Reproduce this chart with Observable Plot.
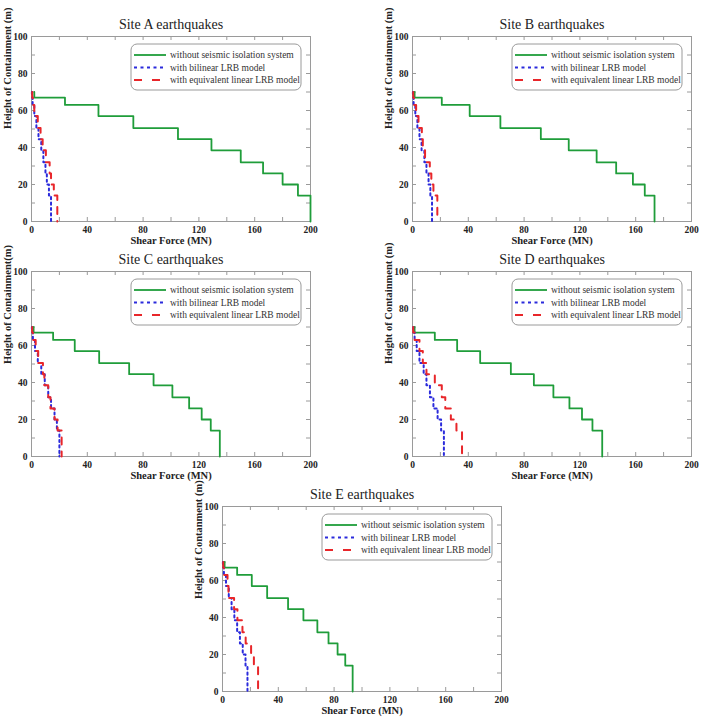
<!DOCTYPE html>
<html><head><meta charset="utf-8">
<script src="https://cdn.jsdelivr.net/npm/d3@7"></script>
<script src="https://cdn.jsdelivr.net/npm/@observablehq/plot@0.6"></script>
<style>
html,body{margin:0;padding:0;background:#fff;}
#root{position:relative;width:712px;height:721px;overflow:hidden;background:#fff;}
.panel{position:absolute;}
</style></head><body><div id="root"></div>
<script>
// ---- data ----
const heights = [70, 67, 63, 57, 50.5, 44.5, 38.5, 32, 26, 20, 14, 0];
const seriesNames = ["without seismic isolation system", "with bilinear LRB model", "with equivalent linear LRB model"];
const siteTitles = ["Site A earthquakes", "Site B earthquakes", "Site C earthquakes", "Site D earthquakes", "Site E earthquakes"];
const yAxisLabels = ["Height of Containment (m)", "Height of Containment (m)", "Height of Containment(m)", "Height of Containment (m)", "Height of Contanment (m)"];
const xAxisLabel = "Shear Force (MN)";
const xTickLabels = [0, 40, 80, 120, 160, 200];
const yTickLabels = [0, 20, 40, 60, 80, 100];
const xMinorTicks = [0, 20, 40, 60, 80, 100, 120, 140, 160, 180, 200];
const yMinorTicks = [0, 10, 20, 30, 40, 50, 60, 70, 80, 90, 100];

// shear per storey segment (top to bottom), MN
const siteA_without  = [2, 24, 48, 73, 105, 129, 150, 166, 180, 191, 200];
const siteA_bilinear = [0.3, 0.8, 2, 3.5, 5, 7, 8.5, 10, 11, 12.5, 14];
const siteA_equiv    = [0.5, 1, 2, 4.5, 6.5, 8, 10.3, 13, 14, 16, 18.5];

const siteB_without  = [1.5, 21, 41, 63, 92, 112, 132, 146, 158, 166.5, 173.5];
const siteB_bilinear = [0.3, 0.8, 2, 3.5, 5, 6.5, 8.5, 10, 11.5, 12.8, 14];
const siteB_equiv    = [0.5, 1, 2.6, 4.3, 6.7, 7.4, 9, 12.4, 13.5, 15, 17.8];

const siteC_without  = [1.5, 15.5, 31, 48.5, 70, 87.5, 101, 113, 122, 128.5, 135];
const siteC_bilinear = [0.3, 1, 2.5, 4.5, 7, 9.5, 12, 14, 16.5, 18.2, 20];
const siteC_equiv    = [0.5, 1, 3, 4.8, 8.2, 9.2, 12, 13.6, 16.5, 18.7, 21.6];

const siteD_without  = [1.5, 16, 32, 48.5, 70.5, 87, 101, 112.5, 121.5, 129, 136];
const siteD_bilinear = [0.5, 1.5, 3, 5, 8, 10, 12.5, 15, 18, 20.5, 22.5];
const siteD_equiv    = [0.5, 1.5, 5, 7.4, 10, 16, 21, 23.5, 27.5, 31.5, 35.5];

const siteE_without  = [1.5, 10.5, 21, 32, 47, 58, 68, 76, 82.5, 88, 93.3];
const siteE_bilinear = [0.3, 1, 2.5, 4.5, 6.5, 8.5, 10.5, 12.5, 14.5, 16.5, 17.9];
const siteE_equiv    = [0.5, 1, 3.6, 4.3, 8.3, 10.7, 14.3, 16.6, 20.5, 22.5, 25.5];

const siteSeries = [
  [siteA_without, siteA_bilinear, siteA_equiv],
  [siteB_without, siteB_bilinear, siteB_equiv],
  [siteC_without, siteC_bilinear, siteC_equiv],
  [siteD_without, siteD_bilinear, siteD_equiv],
  [siteE_without, siteE_bilinear, siteE_equiv]
];

// ---- styles / layout ----
const colors = ["#1f9d3a", "#2b2bdc", "#e8262a"];
const dashes = [null, "2.2,3.2", "7,7"];
const widths = [1.8, 2, 2];
const panelPos = [[0, 10], [381, 10], [0, 245], [381, 245], [191, 480]];
const W = 330, H = 240, mL = 31, mR = 20, mT = 26, mB = 29;
const plotH = H - mT - mB, plotW = W - mL - mR;
const TICK = 4;
const FONT = "'Liberation Serif', 'Times New Roman', serif";
const frameColor = "#9a9a9a";

function rowsFor(vals) {
  const rows = vals.map((v, i) => ({x: v, y: heights[i]}));
  rows.push({x: vals[vals.length - 1], y: heights[heights.length - 1]});
  return rows;
}

const root = document.getElementById("root");

siteSeries.forEach((series, p) => {
  const lines = series.map((vals, k) => Plot.line(rowsFor(vals), {
    x: "x", y: "y", curve: "step-before",
    stroke: colors[k], strokeWidth: widths[k], strokeDasharray: dashes[k]
  }));
  const svg = Plot.plot({
    width: W, height: H,
    marginLeft: mL, marginRight: mR, marginTop: mT, marginBottom: mB,
    style: {fontFamily: FONT, background: "transparent", overflow: "visible"},
    x: {domain: [0, 200]},
    y: {domain: [0, 100]},
    marks: [
      // inward tick marks on all four sides
      Plot.tickX(xMinorTicks, {x: d => d, stroke: frameColor, insetTop: plotH - TICK}),
      Plot.tickX(xMinorTicks, {x: d => d, stroke: frameColor, insetBottom: plotH - TICK}),
      Plot.tickY(yMinorTicks, {y: d => d, stroke: frameColor, insetRight: plotW - TICK}),
      Plot.tickY(yMinorTicks, {y: d => d, stroke: frameColor, insetLeft: plotW - TICK}),
      Plot.axisX({anchor: "bottom", ticks: xTickLabels, tickSize: 0, tickPadding: 5, label: null,
        fontSize: 9.5, fontWeight: "bold", fill: "#222"}),
      Plot.axisY({anchor: "left", ticks: yTickLabels, tickSize: 0, tickPadding: 4, label: null,
        fontSize: 9.5, fontWeight: "bold", fill: "#222"}),
      Plot.frame({stroke: frameColor}),
      ...lines,
      Plot.text([xAxisLabel], {frameAnchor: "bottom", dy: 19, text: d => d, fontSize: 10.5, fontWeight: "bold", fill: "#222", lineAnchor: "middle"}),
      Plot.text([yAxisLabels[p]], {frameAnchor: "left", dx: -24, rotate: -90, text: d => d, fontSize: 10.5, fontWeight: "bold", fill: "#222", lineAnchor: "middle"}),
      Plot.text([siteTitles[p]], {frameAnchor: "top", dy: -12, text: d => d, fontSize: 14, fill: "#222", lineAnchor: "middle"})
    ]
  });
  // legend box (inside plot, top right)
  const s = d3.select(svg);
  const g = s.append("g").attr("transform", `translate(${mL + 100},${mT + 8})`);
  g.append("rect").attr("x", 0).attr("y", 0).attr("width", 170).attr("height", 46)
    .attr("rx", 6).attr("fill", "#fff").attr("stroke", frameColor).attr("stroke-width", 1);
  seriesNames.forEach((name, k) => {
    const yy = 11 + k * 12.5;
    g.append("line").attr("x1", 3).attr("x2", 35).attr("y1", yy).attr("y2", yy)
      .attr("stroke", colors[k]).attr("stroke-width", widths[k])
      .attr("stroke-dasharray", dashes[k] ? (k === 2 ? "8,10" : "3,3.5") : null);
    g.append("text").attr("x", 39).attr("y", yy).attr("dy", "0.35em")
      .attr("text-anchor", "start")
      .style("font-family", FONT).style("font-size", "9.5px").attr("fill", "#333").text(name);
  });
  const wrap = document.createElement("div");
  wrap.className = "panel";
  wrap.style.left = panelPos[p][0] + "px";
  wrap.style.top = panelPos[p][1] + "px";
  wrap.appendChild(svg);
  root.appendChild(wrap);
});
</script>
</body></html>
